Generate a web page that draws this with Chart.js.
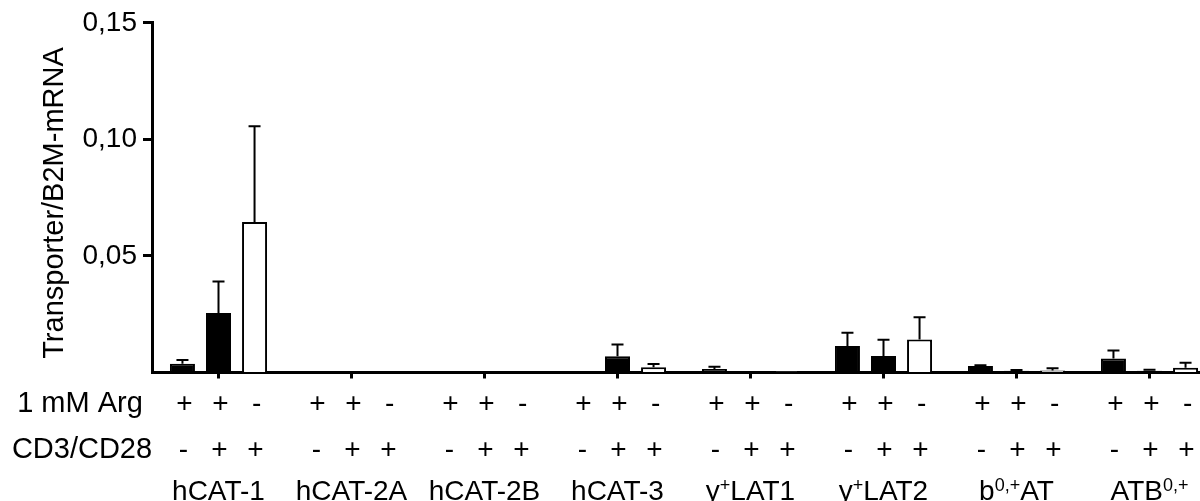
<!DOCTYPE html>
<html>
<head>
<meta charset="utf-8">
<script src="https://cdn.jsdelivr.net/npm/chart.js@4.4.1/dist/chart.umd.min.js"></script>
<style>
  html, body { margin: 0; padding: 0; background: #fff; overflow: hidden; }
  #wrap { width: 1200px; height: 501px; overflow: hidden; }
</style>
</head>
<body>
<div id="wrap"><canvas id="chart" width="1216" height="501"></canvas></div>
<script>
// Transporter mRNA levels per group, three conditions each
const groups = ['hCAT-1', 'hCAT-2A', 'hCAT-2B', 'hCAT-3', 'y^+^LAT1', 'y^+^LAT2', 'b^0,+^AT', 'ATB^0,+'];

// condition rows shown under the axis
const rowLabels = ['1 mM Arg', 'CD3/CD28'];
const argSigns = ['+', '+', '-'];
const cdSigns = ['-', '+', '+'];

// Arg+ / CD3-CD28-
const valsA = [0.0037, 0, 0, 0.0005, 0.0015, 0.0114, 0.0028, 0.0060];
const errA = [0.0017, 0, 0, 0, 0.0010, 0.0057, 0.0003, 0.0034];
// Arg+ / CD3-CD28+
const valsB = [0.0255, 0, 0, 0.0070, 0.0004, 0.0071, 0.0008, 0.0008];
const errB = [0.0135, 0, 0, 0.0050, 0, 0.0070, 0.0003, 0.0004];
// Arg- / CD3-CD28+
const valsC = [0.0646, 0, 0, 0.0023, 0.0004, 0.0142, 0.0009, 0.0020];
const errC = [0.0410, 0, 0, 0.0013, 0, 0.0095, 0.0009, 0.0022];

const yTicks = [0, 0.05, 0.10, 0.15];
const yTitle = 'Transporter/B2M-mRNA';

const FONT = '"Liberation Sans", Arial, sans-serif';
const errors = [errA, errB, errC];

// draws upward error bars with a cap
const errorBarPlugin = {
    id: 'errorBars',
    afterDatasetsDraw(chart) {
        const ctx = chart.ctx;
        const y = chart.scales.y;
        ctx.save();
        ctx.strokeStyle = '#000';
        ctx.lineWidth = 2;
        chart.data.datasets.forEach((ds, i) => {
            const meta = chart.getDatasetMeta(i);
            meta.data.forEach((bar, j) => {
                const err = errors[i][j];
                if (!err) return;
                const top = y.getPixelForValue(ds.data[j]);
                const end = y.getPixelForValue(ds.data[j] + err);
                ctx.beginPath();
                ctx.moveTo(bar.x, top);
                ctx.lineTo(bar.x, end);
                ctx.moveTo(bar.x - 6, end);
                ctx.lineTo(bar.x + 6, end);
                ctx.stroke();
            });
        });
        ctx.restore();
    }
};

// text with ^superscript^ parts
function drawRich(ctx, text, cx, baseY) {
    const parts = text.split('^');
    const base = '28px ' + FONT;
    const sup = '18px ' + FONT;
    let total = 0;
    parts.forEach((p, k) => {
        ctx.font = k % 2 ? sup : base;
        total += ctx.measureText(p).width;
    });
    let x = cx - total / 2;
    ctx.textAlign = 'left';
    parts.forEach((p, k) => {
        ctx.font = k % 2 ? sup : base;
        ctx.fillText(p, x, k % 2 ? baseY - 9 : baseY);
        x += ctx.measureText(p).width;
    });
}

const labelPlugin = {
    id: 'labels',
    afterDraw(chart) {
        const ctx = chart.ctx;
        const xs = chart.scales.x;
        ctx.save();
        ctx.fillStyle = '#000';
        ctx.textBaseline = 'middle';
        ctx.textAlign = 'center';
        ctx.font = '29px ' + FONT;
        ctx.fillText(rowLabels[0], 80, 404);
        ctx.fillText(rowLabels[1], 82, 450);

        ctx.font = '28px ' + FONT;
        for (let i = 0; i < 3; i++) {
            const meta = chart.getDatasetMeta(i);
            meta.data.forEach(bar => {
                ctx.fillText(argSigns[i], bar.x + 2, 404);
                ctx.fillText(cdSigns[i], bar.x + 1, 450);
            });
        }

        ctx.textBaseline = 'alphabetic';
        groups.forEach((g, j) => {
            drawRich(ctx, g, xs.getPixelForValue(j), 500);
        });

        // y axis title
        ctx.translate(63, 203);
        ctx.rotate(-Math.PI / 2);
        ctx.font = '29px ' + FONT;
        ctx.textAlign = 'center';
        ctx.fillText(yTitle, 0, 0);
        ctx.restore();
    }
};

const barCommon = {
    borderColor: '#000',
    borderWidth: 2,
    categoryPercentage: 0.813,
    barPercentage: 0.694
};

new Chart(document.getElementById('chart'), {
    type: 'bar',
    data: {
        labels: groups,
        datasets: [
            Object.assign({ label: 'Arg+ CD-', data: valsA, backgroundColor: '#000' }, barCommon),
            Object.assign({ label: 'Arg+ CD+', data: valsB, backgroundColor: '#000' }, barCommon),
            Object.assign({ label: 'Arg- CD+', data: valsC, backgroundColor: '#fff' }, barCommon)
        ]
    },
    options: {
        responsive: false,
        animation: false,
        devicePixelRatio: 1,
        layout: { padding: { top: 20, left: 0, right: 0, bottom: 0 } },
        plugins: {
            legend: { display: false },
            tooltip: { enabled: false }
        },
        scales: {
            x: {
                grid: {
                    offset: false,
                    drawOnChartArea: false,
                    tickLength: 6,
                    tickWidth: 3,
                    tickColor: '#000'
                },
                border: { color: '#000', width: 3 },
                ticks: { callback: () => '' },
                afterFit: scale => { scale.height = 128.5; }
            },
            y: {
                min: 0,
                max: 0.15,
                afterBuildTicks: scale => {
                    scale.ticks = yTicks.map(v => ({ value: v }));
                },
                grid: {
                    drawOnChartArea: false,
                    tickLength: 9,
                    tickWidth: 3,
                    tickColor: c => (c.tick && c.tick.value === 0 ? 'rgba(0,0,0,0)' : '#000')
                },
                border: { color: '#000', width: 3 },
                ticks: {
                    color: '#000',
                    padding: 6,
                    font: { family: FONT, size: 28 },
                    callback: v => (v === 0 ? '' : v.toFixed(2).replace('.', ','))
                },
                afterFit: scale => { scale.width = 152; }
            }
        }
    },
    plugins: [errorBarPlugin, labelPlugin]
});
</script>
</body>
</html>
